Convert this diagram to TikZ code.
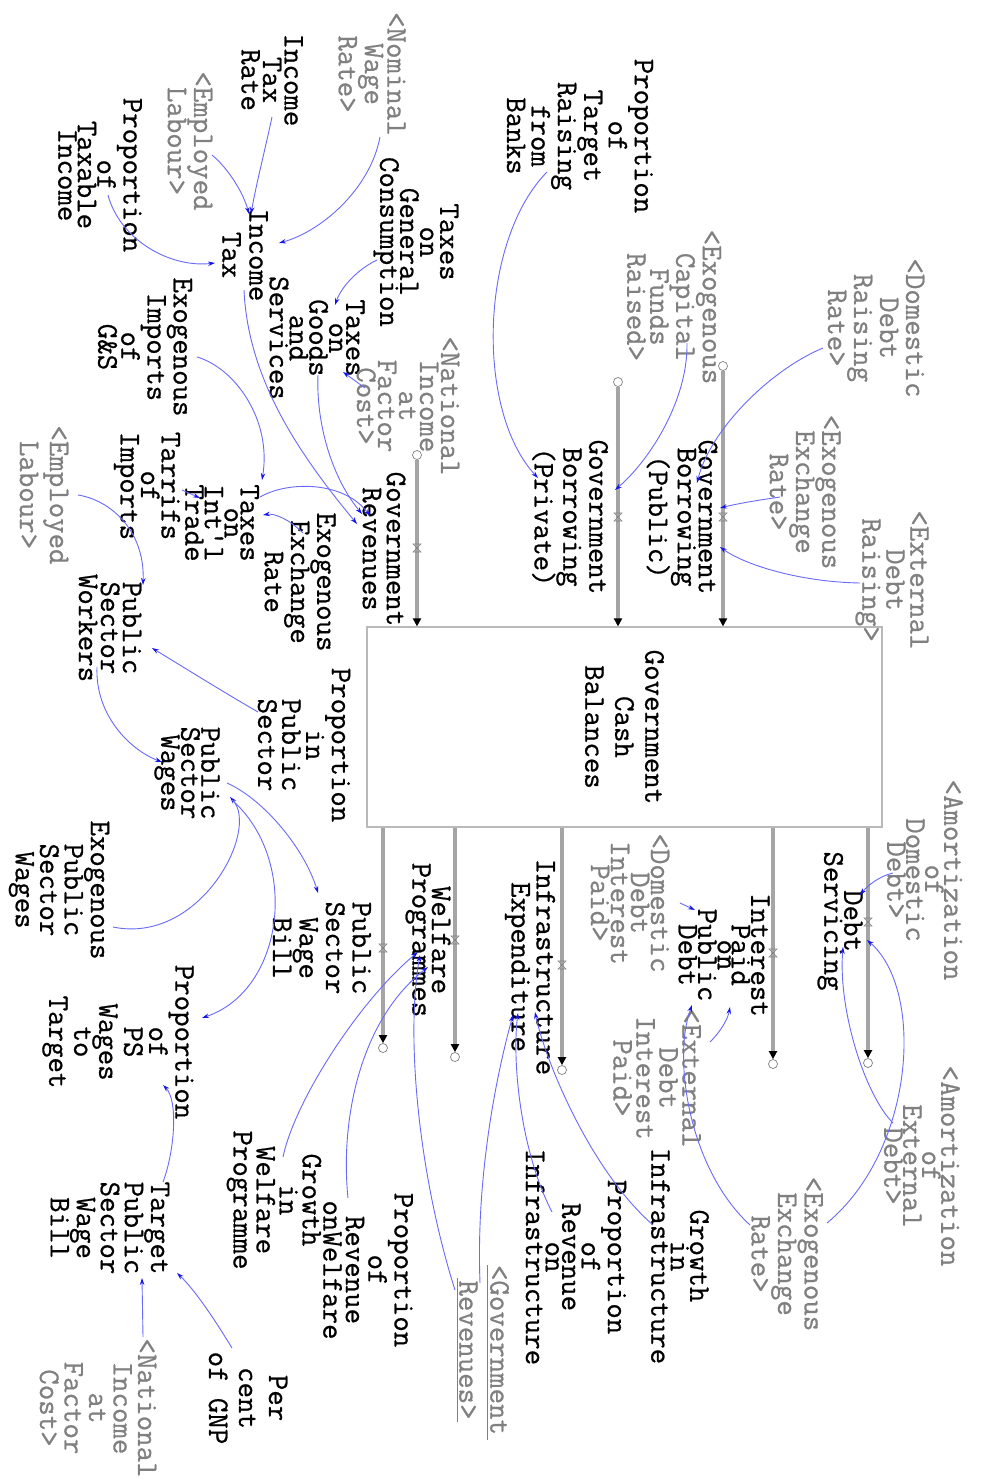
\documentclass[tikz,border=0pt]{standalone}
\usepackage{fontspec}
\usetikzlibrary{arrows.meta,calc}
\definecolor{linkblue}{RGB}{105,105,250}
\definecolor{tipblue}{RGB}{20,20,235}
\definecolor{shadowgray}{RGB}{128,128,128}
\definecolor{pipegray}{RGB}{165,165,165}
\newfontfamily\labelmono[FakeBold=0.7]{Latin Modern Mono}
\newcommand\varfont[1]{\labelmono\fontsize{30}{#1}\selectfont}
\tikzset{
  var/.style={rotate=-90, align=center, inner sep=0pt, font=\varfont{23}},
  lines/.style={font=\varfont{#1}},
  shadow var/.style={var, text=shadowgray},
  link/.style={draw=linkblue, line width=0.9pt,
    -{Stealth[length=7pt,width=4.5pt,color=tipblue]}},
  pipe/.style={draw=pipegray, line width=3.5pt,
    -{Triangle[length=8pt,width=8pt,color=black]}},
  cloudend/.style={circle, draw=gray, line width=0.7pt, minimum size=9pt, inner sep=0pt},
  valve/.pic={\draw[gray, line width=0.6pt] (-4,-4) -- (4,-4) -- (-4,4) -- (4,4) -- cycle;}
}
\begin{document}
\begin{tikzpicture}[x=1pt,y=-1pt]
\path[use as bounding box] (0,0) rectangle (981,1480);
\fill[white] (0,0) rectangle (981,1480);

% stock
\node[var, lines=30, draw=gray!55, line width=1.2pt, minimum width=200pt, minimum height=515pt] (gcb) at (624.5,727) {Government\\Cash\\Balances};

% clouds at pipe ends
\node[cloudend] (cin1) at (417,455) {};
\node[cloudend] (cin2) at (618,382) {};
\node[cloudend] (cin3) at (723,366) {};
\node[cloudend] (cout1) at (383,1048) {};
\node[cloudend] (cout2) at (455,1057) {};
\node[cloudend] (cout3) at (562,1070) {};
\node[cloudend] (cout4) at (773,1064) {};
\node[cloudend] (cout5) at (868,1063) {};

% inflow and outflow pipes
\draw[pipe] (cin1) -- (cin1 |- gcb.west);
\draw[pipe] (cin2) -- (cin2 |- gcb.west);
\draw[pipe] (cin3) -- (cin3 |- gcb.west);
\draw[pipe] (cout1 |- gcb.east) -- (cout1);
\draw[pipe] (cout2 |- gcb.east) -- (cout2);
\draw[pipe] (cout3 |- gcb.east) -- (cout3);
\draw[pipe] (cout4 |- gcb.east) -- (cout4);
\draw[pipe] (cout5 |- gcb.east) -- (cout5);
\pic at (417,548) {valve};
\pic at (618,517) {valve};
\pic at (723,517) {valve};
\pic at (383,948) {valve};
\pic at (455,940) {valve};
\pic at (562,965) {valve};
\pic at (773,953) {valve};
\pic at (868,922) {valve};

% variables
\node[var, lines=21.5] (itr) at (272,80) {Income\\Tax\\Rate};
\node[shadow var, lines=22.5] (nwr) at (372,74) {<Nominal\\Wage\\Rate>};
\node[shadow var, lines=22] (el1) at (190,141) {<Employed\\Labour>};
\node[var, lines=15] (ptti) at (100,175) {Proportion\\of\\Taxable\\Income};
\node[var, lines=27] (it) at (245,255) {Income\\Tax};
\node[var, lines=20] (tgc) at (416,242) {Taxes\\on\\General\\Consumption};
\node[var, lines=17] (tgs) at (317,338) {Taxes\\on\\Goods\\and\\Services};
\node[shadow var, lines=21] (nif1) at (408,406) {<National\\Income\\at\\Factor\\Cost>};
\node[var, lines=23] (eig) at (145,347) {Exogenous\\Imports\\of\\G\&S};
\node[var, lines=16] (tit) at (222,523) {Taxes\\on\\Int'l\\Trade};
\node[var, lines=20.5] (toi) at (147,486) {Tarrifs\\of\\Imports};
\node[shadow var, lines=30] (el2) at (44,495) {<Employed\\Labour>};
\node[var, lines=24] (gr) at (384,549) {Government\\Revenues};
\node[var, lines=22] (eer) at (300,582) {Exogenous\\Exchange\\Rate};
\node[var, lines=22] (psw) at (110,628) {Public\\Sector\\Workers};
\node[var, lines=24] (pps) at (304,745) {Proportion\\in\\Public\\Sector};
\node[var, lines=20] (pswg) at (187,773) {Public\\Sector\\Wages};
\node[var, lines=24.5] (epsw) at (59,890) {Exogenous\\Public\\Sector\\Wages};
\node[var, lines=26.5] (pswb) at (322,948) {Public\\Sector\\Wage\\Bill};
\node[var, lines=25] (ppst) at (118,1042) {Proportion\\of\\PS\\Wages\\to\\Target};
\node[var, lines=24] (tpswb) at (110,1228) {Target\\Public\\Sector\\Wage\\Bill};
\node[var, lines=30] (pcg) at (248,1398) {Per\\cent\\of GNP};
\node[shadow var, lines=24.5] (nif2) at (98,1408) {<National\\Income\\at\\Factor\\Cost>};
\node[var, lines=23] (gwp) at (274,1200) {Growth\\in\\Welfare\\Programme};
\node[var, lines=22.5] (prw) at (368,1270) {Proportion\\of\\Revenue\\onWelfare};
\node[shadow var, lines=31] (grv) at (484,1350) {<Government\\Revenues>};
\node[var, lines=16.5] (pri) at (576,1257) {Proportion\\of\\Revenue\\on\\Infrastructure};
\node[var, lines=16.5] (gi) at (680,1256) {Growth\\in\\Infrastructure};
\node[shadow var, lines=26.5] (eer2) at (787,1254) {<Exogenous\\Exchange\\Rate>};
\node[shadow var, lines=19] (aed) at (922,1166) {<Amortization\\of\\External\\Debt>};
\node[shadow var, lines=19] (add) at (925,880) {<Amortization\\of\\Domestic\\Debt>};
\node[var, lines=15] (ds) at (840,921) {Debt\\Servicing};
\node[var, lines=14] (ipd) at (724,955) {Interest\\Paid\\on\\Public\\Debt};
\node[shadow var, lines=20] (ddi) at (630,903) {<Domestic\\Debt\\Interest\\Paid>};
\node[shadow var, lines=23] (edi) at (657,1078) {<External\\Debt\\Interest\\Paid>};
\node[var, lines=25] (ie) at (530,967) {Infrastructure\\Expenditure};
\node[var, lines=15] (wp) at (428,940) {Welfare\\Programmes};
\node[var, lines=24.5] (ptrb) at (580,136) {Proportion\\of\\Target\\Raising\\from\\Banks};
\node[shadow var, lines=23] (ecf) at (674,307) {<Exogenous\\Capital\\Funds\\Raised>};
\node[shadow var, lines=26] (ddr) at (876,328) {<Domestic\\Debt\\Raising\\Rate>};
\node[shadow var, lines=22] (eer1) at (805,492) {<Exogenous\\Exchange\\Rate>};
\node[shadow var, lines=24] (edr) at (892,580) {<External\\Debt\\Raising>};
\node[var, lines=21] (gbpub) at (682,517) {Government\\Borrowing\\(Public)};
\node[var, lines=26] (gbpriv) at (570,517) {Government\\Borrowing\\(Private)};

% underline of the shadow revenue label
\draw[shadowgray, line width=0.6pt] ($(grv)+(3,-85)$) -- ($(grv)+(3,90)$);
\draw[shadowgray, line width=0.6pt] ($(grv)+(-27,-72)$) -- ($(grv)+(-27,72)$);

% causal links
\draw[link] ($(itr)+(0,37)$) .. controls (265,150) and (256,185) .. ($(it)+(6,-41)$);
\draw[link] ($(el1)+(22,14)$) .. controls (230,170) and (244,195) .. ($(it)+(4,-41)$);
\draw[link] ($(nwr)+(8,63)$) .. controls (370,190) and (320,232) .. ($(it)+(34,-12)$);
\draw[link] ($(ptti)+(8,20)$) .. controls (120,240) and (170,268) .. ($(it)+(-30,8)$);
\draw[link] ($(tgc)+(-39,18)$) .. controls (360,268) and (342,285) .. ($(tgs)+(18,-33)$);
\draw[link] ($(nif1)+(-43,-18)$) -- ($(tgs)+(26,34)$);
\draw[link] ($(it)+(-1,35)$) .. controls (248,380) and (300,455) .. ($(gr)+(-27,-25)$);
\draw[link] ($(tgs)+(1,37)$) .. controls (316,420) and (330,475) .. ($(gr)+(-22,-35)$);
\draw[link] ($(tit)+(38,-26)$) .. controls (290,480) and (345,482) .. ($(gr)+(-14,-33)$);
\draw[link] ($(eig)+(52,10)$) .. controls (235,368) and (272,420) .. ($(tit)+(40,-43)$);
\draw[link] ($(toi)+(35,4)$) -- ($(tit)+(-22,-25)$);
\draw[link] ($(eer)+(3,-49)$) .. controls (290,520) and (275,513) .. ($(tit)+(41,-8)$);
\draw[link] ($(el2)+(34,0)$) .. controls (110,500) and (145,530) .. ($(psw)+(33,-43)$);
\draw[link] ($(pps)+(-46,-33)$) .. controls (220,690) and (180,665) .. ($(psw)+(42,20)$);
\draw[link] ($(psw)+(-13,39)$) .. controls (95,715) and (130,750) .. ($(pswg)+(-25,-11)$);
\draw[link] ($(pswg)+(40,10)$) .. controls (265,800) and (305,850) .. ($(pswb)+(-4,-55)$);
\draw[link] ($(epsw)+(54,37)$) .. controls (200,945) and (260,830) .. ($(pswg)+(43,24)$);
\draw[link] ($(pswg)+(45,27)$) .. controls (300,860) and (285,990) .. ($(ppst)+(84,-24)$);
\draw[link] ($(tpswb)+(53,-46)$) .. controls (175,1150) and (178,1100) .. ($(ppst)+(45,43)$);
\draw[link] ($(pcg)+(-16,-50)$) .. controls (215,1320) and (195,1290) .. ($(tpswb)+(67,45)$);
\draw[link] ($(nif2)+(45,-71)$) -- ($(tpswb)+(32,50)$);
\draw[link] ($(gwp)+(9,-43)$) .. controls (295,1100) and (360,1000) .. ($(wp)+(-10,12)$);
\draw[link] ($(prw)+(-20,-72)$) .. controls (340,1120) and (360,1020) .. ($(wp)+(0,27)$);
\draw[link] ($(grv)+(-29,-60)$) .. controls (420,1180) and (405,1040) .. ($(wp)+(-8,15)$);
\draw[link] ($(grv)+(-4,-67)$) .. controls (476,1180) and (495,1080) .. ($(ie)+(-17,48)$);
\draw[link] ($(pri)+(-24,-45)$) .. controls (520,1150) and (512,1060) .. ($(ie)+(-12,46)$);
\draw[link] ($(gi)+(-27,-31)$) .. controls (590,1170) and (545,1060) .. ($(ie)+(5,45)$);
\draw[link] ($(eer2)+(-37,-29)$) .. controls (690,1170) and (672,1060) .. ($(ipd)+(-32,50)$);
\draw[link] ($(edi)+(53,-36)$) .. controls (722,1030) and (728,1018) .. ($(ipd)+(6,52)$);
\draw[link] ($(ddi)+(50,0)$) -- ($(ipd)+(-29,-45)$);
\draw[link] ($(add)+(-32,-7)$) .. controls (880,876) and (868,885) .. ($(ds)+(20,-26)$);
\draw[link] ($(aed)+(-29,-43)$) .. controls (865,1095) and (838,1010) .. ($(ds)+(3,26)$);
\draw[link] ($(eer2)+(40,-31)$) .. controls (915,1150) and (925,990) .. ($(ds)+(27,19)$);
\draw[link] ($(ddr)+(-53,20)$) .. controls (770,370) and (710,430) .. ($(gbpub)+(15,-34)$);
\draw[link] ($(eer1)+(-25,5)$) .. controls (760,500) and (740,503) .. ($(gbpub)+(38,-9)$);
\draw[link] ($(edr)+(-32,3)$) .. controls (800,582) and (745,565) .. ($(gbpub)+(38,30)$);
\draw[link] ($(ptrb)+(-33,36)$) .. controls (480,240) and (475,410) .. ($(gbpriv)+(-32,-39)$);
\draw[link] ($(ecf)+(13,36)$) .. controls (688,400) and (650,460) .. ($(gbpriv)+(45,-27)$);
\end{tikzpicture}
\end{document}
